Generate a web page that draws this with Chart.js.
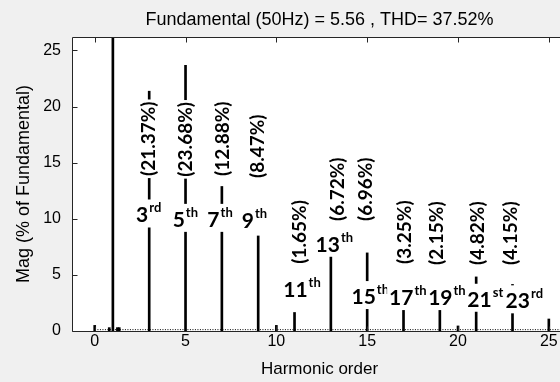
<!DOCTYPE html>
<html><head><meta charset="utf-8">
<script src="https://cdn.jsdelivr.net/npm/chart.js@4.4.0/dist/chart.umd.min.js"></script>
<style>
html,body{margin:0;padding:0;background:#f0f0f0;overflow:hidden;width:560px;height:382px;}
#wrap{position:relative;width:580px;height:382px;}
canvas{display:block;}
</style></head><body>
<div id="wrap"><canvas id="c" width="580" height="382"></canvas></div>
<script>
// ---- data ----
const harmonicOrders = [1, 3, 5, 7, 9, 11, 13, 15, 17, 19, 21, 23, 25];
const harmonicMag    = [100, 21.37, 23.68, 12.88, 8.47, 1.65, 6.72, 6.96, 3.25, 2.15, 4.82, 4.15, 1.07];
const minorOrders = [0, 0.8, 1.25, 1.35, 10, 20];
const minorMag    = [0.5, 0.3, 0.3, 0.3, 0.5, 0.45];
const noiseOrders = [0.15, 26];
const noiseMag    = [0.12, 0.12];
const labelOrders = [3, 5, 7, 9, 11, 13, 15, 17, 19, 21, 23];
const labelSuffix = ['rd','th','th','th','th','th','th','th','th','st','rd'];
const xTickValues = [0, 5, 10, 15, 20, 25];
const yTickValues = [0, 5, 10, 15, 20, 25];
const titleText = 'Fundamental (50Hz) = 5.56 , THD= 37.52%';
const xTitle = 'Harmonic order';
const yTitle = 'Mag (% of Fundamental)';

// ---- annotation placement (data units) ----
const pctPos = [[2.92,17.13],[4.99,17.08],[7.01,17.13],[8.94,16.46],[11.23,8.83],[13.34,12.63],[14.9,12.63],[17.0,8.81],[18.8,8.72],[21.05,8.72],[22.88,8.72]];
const ordPos = [[2.97,9.67],[4.99,9.28],[6.90,9.28],[8.79,9.14],[11.41,3.05],[13.19,7.06],[15.17,2.40],[17.24,2.31],[19.39,2.31],[21.50,2.16],[23.65,2.02]];

const magOf = o => harmonicMag[harmonicOrders.indexOf(o)];

const frame = {
  id: 'frame',
  beforeDraw(chart) {
    const {ctx, chartArea: a} = chart;
    ctx.save(); ctx.fillStyle = '#fff';
    ctx.fillRect(a.left, a.top, a.right - a.left, a.bottom - a.top);
    ctx.restore();
  },
  afterDatasetsDraw(chart) {
    const {ctx, scales: {x, y}} = chart;
    ctx.save();
    labelOrders.forEach((o, i) => {
      const txt = '(' + magOf(o).toFixed(2) + '%)';
      const px = x.getPixelForValue(pctPos[i][0]), py = y.getPixelForValue(pctPos[i][1]);
      ctx.save();
      ctx.translate(px, py); ctx.rotate(-Math.PI / 2);
      ctx.font = 'bold 19px Lato';
      const w = ctx.measureText(txt).width;
      ctx.fillStyle = '#fff';
      ctx.fillRect(-w / 2 - 2, -11, w + 4, 22);
      ctx.fillStyle = '#000'; ctx.textAlign = 'center'; ctx.textBaseline = 'middle';
      ctx.fillText(txt, 0, 1);
      ctx.restore();
    });
    labelOrders.forEach((o, i) => {
      const px = x.getPixelForValue(ordPos[i][0]), py = y.getPixelForValue(ordPos[i][1]);
      ctx.font = 'bold 21px Lato';
      const main = String(o);
      const w1 = ctx.measureText(main).width;
      ctx.font = 'bold 13px Lato';
      const w2 = ctx.measureText(labelSuffix[i]).width;
      const tot = w1 + 1 + w2;
      const left = px - tot / 2;
      ctx.fillStyle = '#fff';
      ctx.fillRect(left - 2, py - 23, tot + 4, 28);
      ctx.fillStyle = '#000'; ctx.textAlign = 'left'; ctx.textBaseline = 'alphabetic';
      ctx.font = 'bold 21px Lato';
      ctx.fillText(main, left, py);
      ctx.font = 'bold 13px Lato';
      ctx.fillText(labelSuffix[i], left + w1 + 1, py - 10);
    });
    ctx.restore();
  },
  afterDraw(chart) {
    const {ctx, chartArea: a, scales: {x, y}} = chart;
    ctx.save();
    ctx.strokeStyle = '#262626'; ctx.lineWidth = 1;
    const L = Math.round(a.left) + 0.5, R = Math.round(a.right) + 0.5, T = Math.round(a.top) + 0.5, B = Math.round(a.bottom) + 0.5;
    ctx.beginPath();
    ctx.moveTo(L, T); ctx.lineTo(R, T); ctx.lineTo(R, B); ctx.lineTo(L, B); ctx.closePath();
    xTickValues.forEach(v => {
      const p = Math.round(x.getPixelForValue(v)) + 0.5;
      ctx.moveTo(p, B); ctx.lineTo(p, B - 5);
      ctx.moveTo(p, T); ctx.lineTo(p, T + 5);
    });
    yTickValues.forEach(v => {
      const p = Math.round(y.getPixelForValue(v)) + 0.5;
      ctx.moveTo(L, p); ctx.lineTo(L + 5, p);
      ctx.moveTo(R, p); ctx.lineTo(R - 5, p);
    });
    ctx.stroke();
    ctx.fillStyle = '#000';
    ctx.font = '18px "Liberation Sans"';
    ctx.textAlign = 'center'; ctx.textBaseline = 'alphabetic';
    ctx.fillText(titleText, (a.left + a.right) / 2, 25);
    ctx.restore();
  }
};

new Chart(document.getElementById('c'), {
  type: 'bar',
  data: {
    datasets: [
      {
        type: 'line',
        data: noiseOrders.map((o, i) => ({x: o, y: noiseMag[i]})),
        borderColor: '#000', borderWidth: 1, borderDash: [1, 1.5],
        pointRadius: 0, fill: false
      },
      {
        data: harmonicOrders.map((o, i) => ({x: o, y: harmonicMag[i]})),
        backgroundColor: '#000', borderWidth: 0, barThickness: 2, grouped: false
      },
      {
        data: minorOrders.map((o, i) => ({x: o, y: minorMag[i]})),
        backgroundColor: '#000', borderWidth: 0, barThickness: 2, grouped: false
      }
    ]
  },
  options: {
    responsive: false, animation: false, devicePixelRatio: 1,
    layout: {padding: {top: 37, left: 0, right: 13, bottom: 0}},
    plugins: {legend: {display: false}, tooltip: {enabled: false}, title: {display: false}},
    scales: {
      x: {
        type: 'linear', min: -1.25, max: 26, offset: false,
        grid: {display: false, drawTicks: false}, border: {display: false},
        afterBuildTicks: s => { s.ticks = xTickValues.map(v => ({value: v})); },
        afterFit: s => { s.height = 51; },
        ticks: {color: '#000', padding: 1, font: {family: 'Liberation Sans', size: 16}, maxRotation: 0},
        title: {display: true, text: xTitle, color: '#000', font: {family: 'Liberation Sans', size: 17}, padding: {top: 0, bottom: 2}}
      },
      y: {
        min: 0, max: 26.2,
        grid: {display: false, drawTicks: false}, border: {display: false},
        afterBuildTicks: s => { s.ticks = yTickValues.map(v => ({value: v})); },
        afterFit: s => { s.width = 72; },
        ticks: {color: '#000', padding: 11, font: {family: 'Liberation Sans', size: 16}},
        title: {display: true, text: yTitle, color: '#000', font: {family: 'Liberation Sans', size: 18}, padding: {top: 13, bottom: 0}}
      }
    }
  },
  plugins: [frame]
});
</script>
</body></html>
